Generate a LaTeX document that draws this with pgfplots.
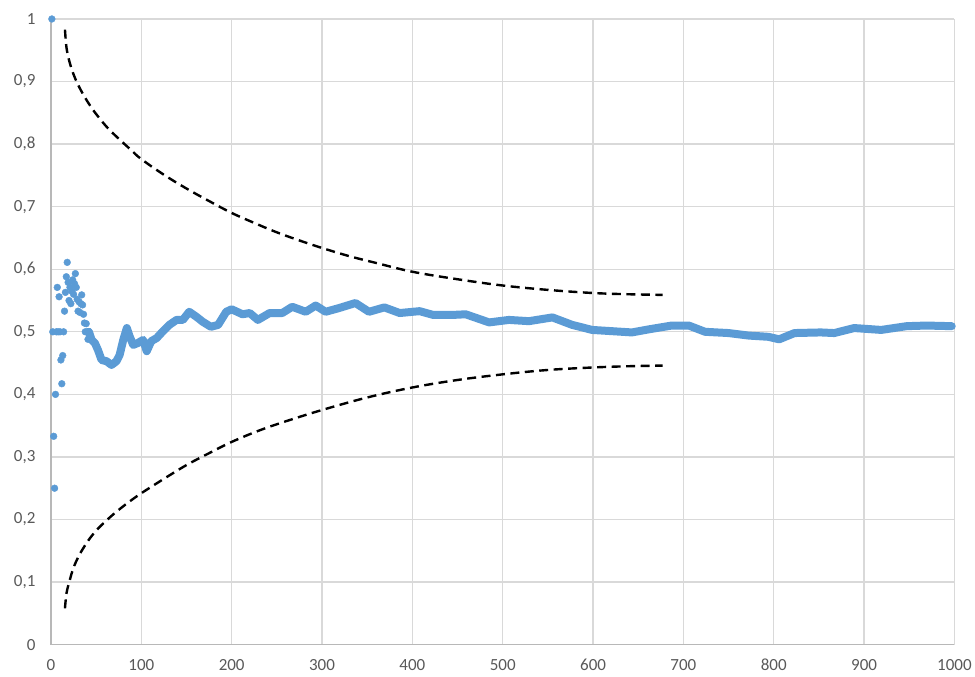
\documentclass[border=0pt]{standalone}
\usepackage{fontspec}
\setmainfont{Carlito}
\usepackage{pgfplots}
\pgfplotsset{compat=1.18}
\definecolor{dotblue}{RGB}{91,155,213}
\definecolor{gridgray}{RGB}{217,217,217}
\definecolor{labgray}{RGB}{89,89,89}
\begin{document}
\begin{tikzpicture}
\begin{axis}[
  scale only axis, width=904pt, height=626pt,
  xmin=0, xmax=1000, ymin=0, ymax=1,
  xtick={0,100,200,300,400,500,600,700,800,900,1000},
  ytick={0,0.1,0.2,0.3,0.4,0.5,0.6,0.7,0.8,0.9,1},
  grid=major, major grid style={color=gridgray, line width=1.3pt},
  axis lines=left, axis line style={-, color=gridgray!85!black, line width=1.3pt},
  major tick length=0pt,
  tick label style={font=\fontsize{17}{20}\selectfont, color=labgray},
  /pgf/number format/assume math mode=true,
  /pgf/number format/use comma,
  /pgf/number format/1000 sep={},
  yticklabel style={/pgf/number format/fixed, /pgf/number format/precision=1, xshift=-12pt},
  xticklabel style={yshift=-11pt},
  clip=false,
]
% running proportion, first points
\addplot[only marks, mark=*, mark size=3.4pt, color=dotblue] coordinates {
(1,1.000)(2,0.500)(3,0.333)(4,0.250)(5,0.400)(6,0.500)(7,0.571)(8,0.500)(9,0.556)(10,0.500)
(11,0.455)(12,0.417)(13,0.462)(14,0.500)(15,0.533)(16,0.563)(17,0.588)(18,0.611)(19,0.579)(20,0.550)
(21,0.571)(22,0.545)(23,0.565)(24,0.583)(25,0.560)(26,0.577)(27,0.593)(28,0.571)(29,0.552)(30,0.533)
(31,0.548)(32,0.531)(33,0.545)(34,0.559)(35,0.543)(36,0.528)(37,0.514)(38,0.500)(39,0.513)(40,0.500)
(41,0.488)(42,0.500)
};
% dense band of later points
\addplot[color=dotblue, line width=8pt, line join=round, line cap=round] coordinates {
(42,0.500)(45,0.487)(48.6,0.482)(52,0.471)(56,0.455)(61.5,0.453)(67,0.447)(72.5,0.453)(76,0.463)(80,0.487)
(84,0.506)(87,0.493)(91,0.479)(96,0.482)(102,0.487)(106,0.469)(111,0.485)(117,0.490)(124,0.501)(131,0.511)
(139,0.519)(146,0.519)(153,0.532)(161,0.524)(168,0.516)(177,0.508)(185,0.511)(194,0.532)(200,0.536)(212,0.528)
(220,0.530)(229,0.519)(242,0.530)(256,0.530)(267,0.540)(282,0.532)(293,0.542)(304,0.532)(319,0.538)(337,0.546)
(352,0.532)(369,0.539)(386,0.530)(408,0.533)(423,0.527)(445,0.527)(459,0.528)(485,0.515)(507,0.519)(529,0.517)
(555,0.523)(577,0.511)(599,0.503)(621,0.501)(643,0.499)(662,0.504)(687,0.510)(706,0.510)(724,0.500)(750,0.498)
(772,0.494)(794,0.492)(806,0.488)(823,0.498)(852,0.499)(867,0.498)(889,0.506)(919,0.503)(947,0.509)(969,0.510)
(997,0.509)
};
% upper bound
\addplot[black, line width=2.4pt, dash pattern=on 9pt off 5.5pt, smooth, tension=0.6] coordinates {
(15.5,0.983)(17.3,0.953)(21,0.929)(26.5,0.906)(33.9,0.884)(43.1,0.862)(52.2,0.844)(63.3,0.825)(76.2,0.807)(89.1,0.790)
(100,0.776)(125,0.751)(150,0.729)(175,0.709)(200,0.690)(225,0.674)(250,0.659)(275,0.646)(300,0.634)(330,0.621)
(360,0.610)(400,0.596)(450,0.584)(500,0.574)(550,0.567)(600,0.562)(640,0.560)(677,0.559)
};
% lower bound
\addplot[black, line width=2.4pt, dash pattern=on 9pt off 5.5pt, smooth, tension=0.6] coordinates {
(15.5,0.058)(17.3,0.083)(21,0.104)(24.7,0.122)(30.2,0.140)(35.7,0.154)(43.1,0.170)(50.5,0.183)(59.6,0.196)(68.8,0.208)
(78.1,0.219)(87.2,0.229)(100,0.242)(125,0.265)(150,0.287)(175,0.306)(200,0.324)(230,0.342)(260,0.357)(300,0.375)
(350,0.395)(400,0.411)(450,0.423)(500,0.432)(550,0.439)(600,0.443)(640,0.445)(677,0.446)
};
\end{axis}
\path ([shift={(-51pt,-32pt)}]current axis.south west) rectangle ([shift={(20pt,19pt)}]current axis.north east);
\end{tikzpicture}
\end{document}
